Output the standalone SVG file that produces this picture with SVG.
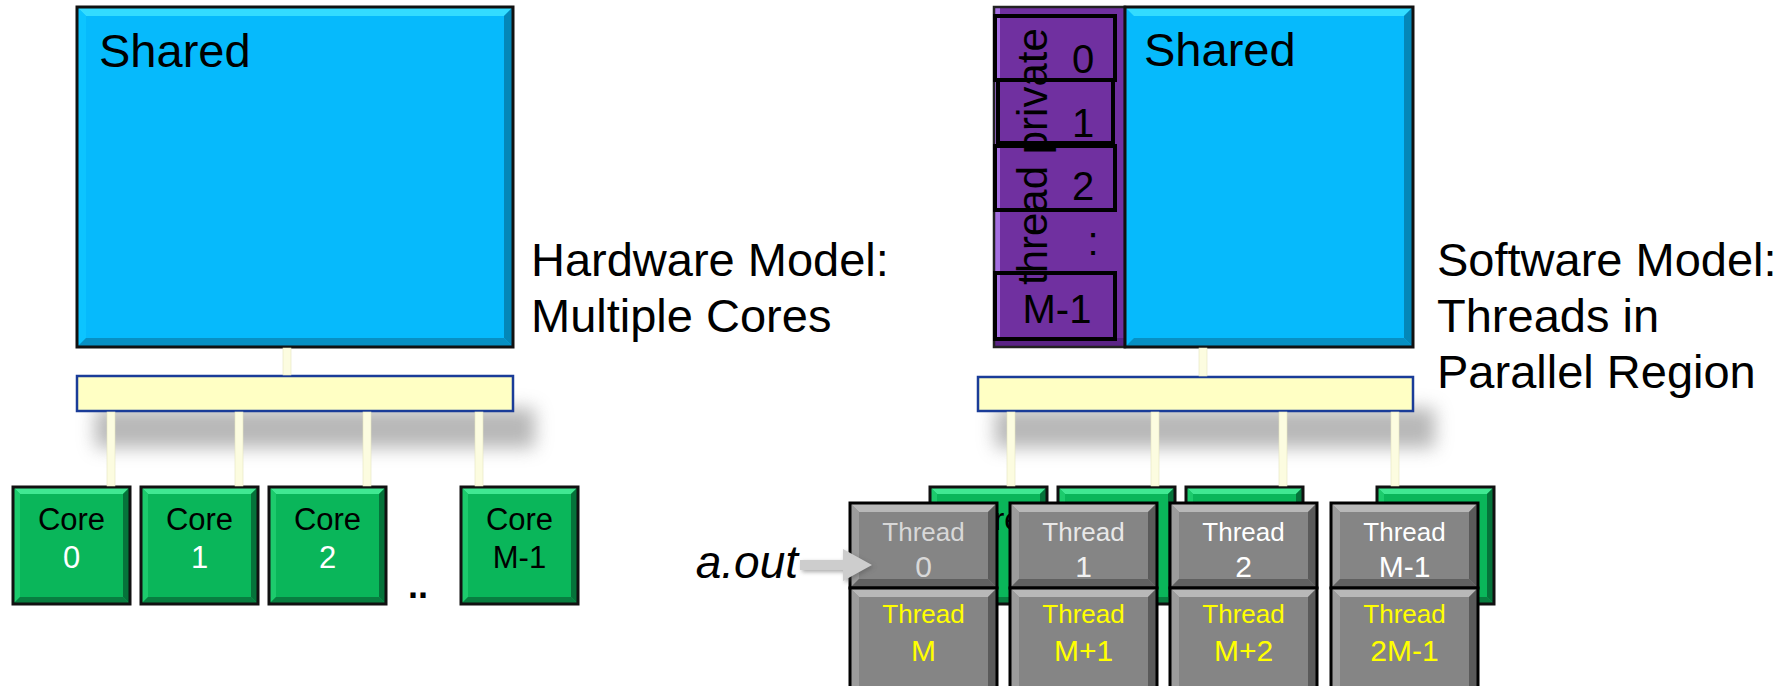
<svg xmlns="http://www.w3.org/2000/svg" xmlns:xlink="http://www.w3.org/1999/xlink" width="1791" height="686" viewBox="0 0 1791 686">
<style>
text{font-family:"Liberation Sans",Arial,sans-serif}
.big{font-size:47px;fill:#000}
.core{font-size:31px;text-anchor:middle}
.thr{font-size:26px;text-anchor:middle}
.num{font-size:30px;text-anchor:middle}
.slotnum{font-size:40px;text-anchor:middle;fill:#000}
.wire{fill:#fcfce0;stroke:#e4e4c0;stroke-width:0.6}
.bus{fill:#ffffc4;stroke:#1a3c98;stroke-width:2.5}
.slot{fill:none;stroke:#000;stroke-width:4}
</style>
<defs>
<filter id="blur" x="-20%" y="-100%" width="140%" height="300%"><feGaussianBlur stdDeviation="9"/></filter>
<filter id="sblur" x="-30%" y="-30%" width="160%" height="160%"><feGaussianBlur stdDeviation="2"/></filter>
<linearGradient id="busGrad" x1="0" y1="0" x2="0" y2="1">
<stop offset="0" stop-color="#ffffee"/><stop offset="0.35" stop-color="#ffffd0"/><stop offset="1" stop-color="#ffffb8"/>
</linearGradient>
<g id="coreBox">
<rect width="117" height="117" fill="#0ab65a"/>
<polygon points="0,0 117,0 110,7 7,7" fill="#40e892"/>
<polygon points="0,0 7,7 7,110 0,117" fill="#1ccb6c"/>
<polygon points="117,0 117,117 110,110 110,7" fill="#05733a"/>
<polygon points="0,117 117,117 110,110 7,110" fill="#087e40"/>
<rect width="117" height="117" fill="none" stroke="#111" stroke-width="3"/>
</g>
<g id="threadBox">
<rect width="147" height="85" fill="#858585"/>
<polygon points="0,0 147,0 138,9 9,9" fill="#b8b8b8"/>
<polygon points="0,0 9,9 9,76 0,85" fill="#9c9c9c"/>
<polygon points="147,0 147,85 138,76 138,9" fill="#5a5a5a"/>
<polygon points="0,85 147,85 138,76 9,76" fill="#606060"/>
<rect width="147" height="85" fill="none" stroke="#000" stroke-width="3"/>
</g>
<g id="threadBoxTall">
<rect width="147" height="105" fill="#858585"/>
<polygon points="0,0 147,0 138,9 9,9" fill="#b8b8b8"/>
<polygon points="0,0 9,9 9,105 0,105" fill="#9c9c9c"/>
<polygon points="147,0 147,105 138,105 138,9" fill="#5a5a5a"/>
<rect width="147" height="105" fill="none" stroke="#000" stroke-width="3"/>
</g>
</defs>

<!-- bus shadows -->
<rect x="95" y="408" width="440" height="40" fill="#9a9a9a" opacity="0.7" filter="url(#blur)"/>
<rect x="995" y="408" width="440" height="40" fill="#9a9a9a" opacity="0.7" filter="url(#blur)"/>

<!-- Left: hardware model -->
<g id="shared-left">
<rect x="77" y="7" width="436" height="340" fill="#06bafc"/>
<polygon points="77,7 513,7 504,16 86,16" fill="#33dcff"/>
<polygon points="77,7 86,16 86,338 77,347" fill="#0cc4ff"/>
<polygon points="513,7 513,347 504,338 504,16" fill="#0487b8"/>
<polygon points="77,347 513,347 504,338 86,338" fill="#0790c4"/>
<rect x="77" y="7" width="436" height="340" fill="none" stroke="#111" stroke-width="3"/>
<text class="big" x="99" y="67">Shared</text>
</g>
<g id="bus-left">
<rect x="77" y="376" width="436" height="35" fill="url(#busGrad)"/>
<polygon points="79,378 95,393 79,409" fill="#ffff9e"/>
<polygon points="511,378 495,393 511,409" fill="#ffff9e"/>
<rect class="bus" x="77" y="376" width="436" height="35" fill="none"/>
</g>
<g id="core-0"><use xlink:href="#coreBox" x="13" y="487"/><text class="core" x="71.5" y="530" fill="#000">Core</text><text class="core" x="71.5" y="568" fill="#fff">0</text></g>
<g id="core-1"><use xlink:href="#coreBox" x="141" y="487"/><text class="core" x="199.5" y="530" fill="#000">Core</text><text class="core" x="199.5" y="568" fill="#fff">1</text></g>
<g id="core-2"><use xlink:href="#coreBox" x="269" y="487"/><text class="core" x="327.5" y="530" fill="#000">Core</text><text class="core" x="327.5" y="568" fill="#fff">2</text></g>
<g id="core-dots"><text x="418" y="598" font-size="36" font-weight="bold" text-anchor="middle" fill="#000">..</text></g>
<g id="core-m1"><use xlink:href="#coreBox" x="461" y="487"/><text class="core" x="519.5" y="530" fill="#000">Core</text><text class="core" x="519.5" y="568" fill="#000">M-1</text></g>
<g id="label-hardware"><text class="big" x="531" y="276">Hardware Model:</text><text class="big" x="531" y="332">Multiple Cores</text></g>

<!-- Right: software model -->
<g id="private-column">
<rect x="994" y="7" width="131" height="340" fill="#7030a0"/>
<rect x="995" y="8" width="5" height="338" fill="#a46ee0"/>
<rect x="995" y="338" width="129" height="8" fill="#5a2385"/>
<rect x="994" y="7" width="131" height="340" fill="none" stroke="#222" stroke-width="2.5"/>
<rect class="slot" x="995" y="16" width="120" height="64"/>
<rect class="slot" x="998" y="80" width="115" height="63"/>
<rect class="slot" x="995" y="146" width="120" height="64"/>
<rect class="slot" x="995" y="273" width="120" height="66"/>
<text class="slotnum" x="1083" y="73">0</text>
<text class="slotnum" x="1083" y="137">1</text>
<text class="slotnum" x="1083" y="200">2</text>
<text class="slotnum" x="1093" y="255">:</text>
<text class="slotnum" x="1057" y="323">M-1</text>
<text transform="translate(1047,285) rotate(-90)" font-size="42" fill="#000">thread private</text>
</g>
<g id="shared-right">
<rect x="1125" y="7" width="288" height="340" fill="#06bafc"/>
<polygon points="1125,7 1413,7 1404,16 1134,16" fill="#33dcff"/>
<polygon points="1413,7 1413,347 1404,338 1404,16" fill="#0487b8"/>
<polygon points="1125,347 1413,347 1404,338 1134,338" fill="#0790c4"/>
<rect x="1125" y="7" width="288" height="340" fill="none" stroke="#111" stroke-width="3"/>
<text class="big" x="1144" y="66">Shared</text>
</g>
<g id="bus-right">
<rect x="978" y="377" width="435" height="34" fill="url(#busGrad)"/>
<polygon points="980,379 996,394 980,409" fill="#ffff9e"/>
<polygon points="1411,379 1395,394 1411,409" fill="#ffff9e"/>
<rect class="bus" x="978" y="377" width="435" height="34" fill="none"/>
</g>
<g id="label-software"><text class="big" x="1437" y="276">Software Model:</text><text class="big" x="1437" y="332">Threads in</text><text class="big" x="1437" y="388">Parallel Region</text></g>

<g id="hw-core-r0"><use xlink:href="#coreBox" x="930" y="487"/><text class="core" x="988" y="530" fill="#000">Core</text></g>
<g id="hw-core-r1"><use xlink:href="#coreBox" x="1058" y="487"/></g>
<g id="hw-core-r2"><use xlink:href="#coreBox" x="1186" y="487"/></g>
<g id="hw-core-r3"><use xlink:href="#coreBox" x="1377" y="487"/></g>

<g id="thread-0"><use xlink:href="#threadBox" x="850" y="503"/><text class="thr" x="923.5" y="541" fill="#d8d8d8">Thread</text><text class="num" x="923.5" y="577" fill="#d8d8d8">0</text></g>
<g id="thread-1"><use xlink:href="#threadBox" x="1010" y="503"/><text class="thr" x="1083.5" y="541" fill="#e8e8e8">Thread</text><text class="num" x="1083.5" y="577" fill="#f0f0f0">1</text></g>
<g id="thread-2"><use xlink:href="#threadBox" x="1170" y="503"/><text class="thr" x="1243.5" y="541" fill="#fff">Thread</text><text class="num" x="1243.5" y="577" fill="#fff">2</text></g>
<g id="thread-m1"><use xlink:href="#threadBox" x="1331" y="503"/><text class="thr" x="1404.5" y="541" fill="#fff">Thread</text><text class="num" x="1404.5" y="577" fill="#fff">M-1</text></g>
<g id="thread-m"><use xlink:href="#threadBoxTall" x="850" y="588"/><text class="thr" x="923.5" y="623" fill="#ffff00">Thread</text><text class="num" x="923.5" y="661" fill="#ffff00">M</text></g>
<g id="thread-m+1"><use xlink:href="#threadBoxTall" x="1010" y="588"/><text class="thr" x="1083.5" y="623" fill="#ffff00">Thread</text><text class="num" x="1083.5" y="661" fill="#ffff00">M+1</text></g>
<g id="thread-m+2"><use xlink:href="#threadBoxTall" x="1170" y="588"/><text class="thr" x="1243.5" y="623" fill="#ffff00">Thread</text><text class="num" x="1243.5" y="661" fill="#ffff00">M+2</text></g>
<g id="thread-2m-1"><use xlink:href="#threadBoxTall" x="1331" y="588"/><text class="thr" x="1404.5" y="623" fill="#ffff00">Thread</text><text class="num" x="1404.5" y="661" fill="#ffff00">2M-1</text></g>

<g id="aout"><text x="798" y="578" font-size="46" font-style="italic" text-anchor="end" fill="#000">a.out</text></g>

<g id="connectors">
<rect class="wire" x="283" y="348" width="8" height="27"/>
<rect class="wire" x="107" y="412" width="8" height="74"/>
<rect class="wire" x="235" y="412" width="8" height="74"/>
<rect class="wire" x="363" y="412" width="8" height="74"/>
<rect class="wire" x="475" y="412" width="8" height="74"/>
<rect class="wire" x="1199" y="348" width="8" height="28"/>
<rect class="wire" x="1007" y="412" width="8" height="74"/>
<rect class="wire" x="1151" y="412" width="8" height="74"/>
<rect class="wire" x="1279" y="412" width="8" height="74"/>
<rect class="wire" x="1391" y="412" width="8" height="74"/>
<path d="M802,562 H845 V551 L874,567 L845,583 V572 H802 Z" fill="#555" opacity="0.5" filter="url(#sblur)"/>
<path d="M800,560 H843 V549 L872,565 L843,581 V570 H800 Z" fill="#cdcdcd"/>
</g>
</svg>
